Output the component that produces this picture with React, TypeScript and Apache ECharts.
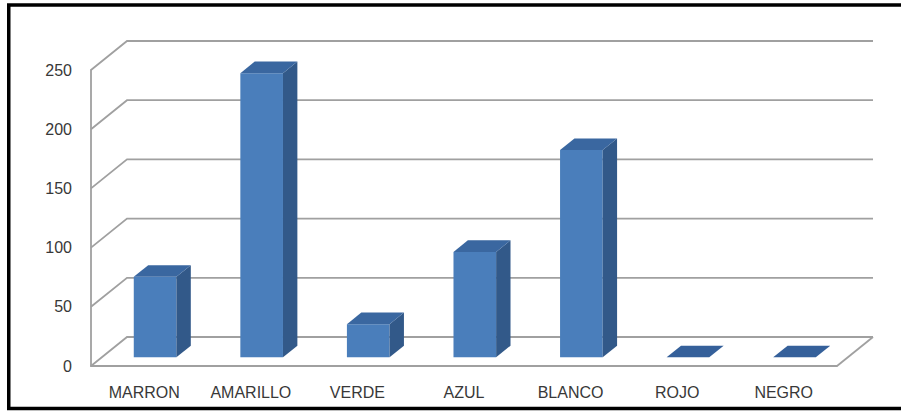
import React, { useEffect, useRef } from "react";
import * as echarts from "echarts";

const categories = ["MARRON", "AMARILLO", "VERDE", "AZUL", "BLANCO", "ROJO", "NEGRO"];
const values = [68, 240, 28, 89, 175, 0, 0];
const yTicks = [0, 50, 100, 150, 200, 250];

// 3D projection parameters (pixels)
const DEPTH_X = 36;
const DEPTH_Y = -29;
const BAR_FRONT = 0.3; // fraction of depth where bar front face sits
const BAR_DEPTH = 0.4; // fraction of depth occupied by bar
const BAR_WIDTH = 0.4; // fraction of category band

const GRID_COLOR = "#a0a0a0";
const GRID_WIDTH = 1.8;
const FRONT_COLOR = "#4a7ebb";
const SIDE_COLOR = "#325989";
const TOP_COLOR = "#3a67a0";
const TEXT_COLOR = "#383838";

export default function App() {
  const ref = useRef<HTMLDivElement>(null);

  useEffect(() => {
    if (!ref.current) return;
    const chart = echarts.init(ref.current, undefined, { renderer: "svg" });

    const option: any = {
      animation: false,
      backgroundColor: "#ffffff",
      grid: { left: 91, top: 70, width: 746, height: 296, containLabel: false },
      xAxis: {
        type: "category",
        data: categories,
        axisLine: { show: true, lineStyle: { color: GRID_COLOR, width: GRID_WIDTH } },
        axisTick: { show: false },
        splitLine: { show: false },
        axisLabel: {
          color: TEXT_COLOR,
          fontFamily: "Liberation Sans, Arial, sans-serif",
          fontSize: 16,
          margin: 18,
          interval: 0,
        },
      },
      yAxis: {
        type: "value",
        min: 0,
        max: 250,
        interval: 50,
        axisLine: { show: true, lineStyle: { color: GRID_COLOR, width: GRID_WIDTH } },
        axisTick: { show: false },
        splitLine: { show: false },
        axisLabel: {
          color: TEXT_COLOR,
          fontFamily: "Liberation Sans, Arial, sans-serif",
          fontSize: 16,
          margin: 19,
        },
      },
      graphic: [
        {
          type: "rect",
          shape: { x: 8.75, y: 5, width: 900, height: 403.5 },
          style: { fill: "none", stroke: "#000000", lineWidth: 3.5 },
          z: 100,
        },
      ],
      series: [
        {
          type: "custom",
          name: "walls",
          data: [[0, 0]],
          z: 1,
          silent: true,
          renderItem: (params: any, api: any) => {
            const cs = params.coordSys;
            const x0 = cs.x;
            const x1 = cs.x + cs.width;
            const children: any[] = [];
            yTicks.forEach((t) => {
              const y = api.coord([0, t])[1];
              children.push({
                type: "polyline",
                shape: {
                  points: [
                    [x0, y],
                    [x0 + DEPTH_X, y + DEPTH_Y],
                    [x1 + DEPTH_X, y + DEPTH_Y],
                  ],
                },
                style: { stroke: GRID_COLOR, lineWidth: GRID_WIDTH, fill: "none" },
              });
            });
            const yb = api.coord([0, 0])[1];
            children.push({
              type: "line",
              shape: { x1: x1, y1: yb, x2: x1 + DEPTH_X, y2: yb + DEPTH_Y },
              style: { stroke: GRID_COLOR, lineWidth: GRID_WIDTH },
            });
            return { type: "group", children };
          },
        },
        {
          type: "custom",
          name: "bars",
          z: 2,
          data: values.map((v, i) => [i, v]),
          encode: { x: 0, y: 1 },
          renderItem: (params: any, api: any) => {
            const idx = api.value(0);
            const val = api.value(1);
            const p0 = api.coord([idx, 0]);
            const pv = api.coord([idx, val]);
            const band = api.size([1, 0])[0];
            const w = band * BAR_WIDTH;
            const fx = BAR_FRONT * DEPTH_X;
            const fy = BAR_FRONT * DEPTH_Y;
            const dx = BAR_DEPTH * DEPTH_X;
            const dy = BAR_DEPTH * DEPTH_Y;
            const xl = p0[0] - w / 2 + fx;
            const xr = xl + w;
            const yb = p0[1] + fy;
            const yt = pv[1] + fy;
            const children: any[] = [];
            if (yb - yt > 0.5) {
              children.push({
                type: "rect",
                shape: { x: xl, y: yt, width: w, height: yb - yt },
                style: { fill: FRONT_COLOR },
              });
              children.push({
                type: "polygon",
                shape: {
                  points: [
                    [xr, yb],
                    [xr + dx, yb + dy],
                    [xr + dx, yt + dy],
                    [xr, yt],
                  ],
                },
                style: { fill: SIDE_COLOR },
              });
            }
            children.push({
              type: "polygon",
              shape: {
                points: [
                  [xl, yt],
                  [xr, yt],
                  [xr + dx, yt + dy],
                  [xl + dx, yt + dy],
                ],
              },
              style: { fill: yb - yt > 0.5 ? TOP_COLOR : "#35609a" },
            });
            return { type: "group", children };
          },
        },
      ],
    };

    chart.setOption(option);
    return () => chart.dispose();
  }, []);

  return (
    <div
      ref={ref}
      style={{ position: "absolute", left: 0, top: 0, width: 901, height: 411 }}
    />
  );
}
